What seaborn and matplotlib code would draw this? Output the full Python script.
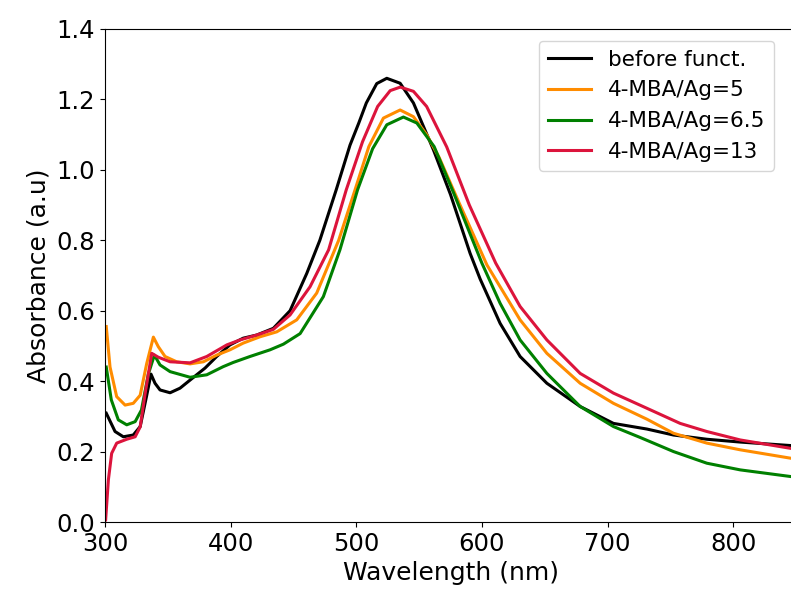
import matplotlib
matplotlib.use("Agg")
import matplotlib.pyplot as plt
import pandas as pd
import seaborn as sns

# UV-vis spectra (wavelength in nm, absorbance in a.u.)
wl_before = [301, 308, 314.6, 322.5, 328, 333, 336.6, 339.8, 343.8, 351.8, 359.7, 367.7,
             379.6, 388.9, 399.5, 410, 420.8, 434, 447.3, 460.6, 471, 484, 495, 502, 508,
             516.3, 524.3, 534.9, 545.5, 561.4, 575, 590.6, 598.6, 614.5, 630.4, 651.7,
             678.2, 704.7, 731.3, 752.5, 779, 805.6, 846]
abs_before = [0.309, 0.257, 0.242, 0.247, 0.271, 0.356, 0.42, 0.394, 0.375, 0.367, 0.38, 0.403,
              0.437, 0.47, 0.503, 0.522, 0.531, 0.55, 0.60, 0.706, 0.80, 0.943, 1.07, 1.133, 1.19,
              1.245, 1.26, 1.246, 1.19, 1.057, 0.93, 0.763, 0.69, 0.564, 0.47, 0.394,
              0.328, 0.28, 0.264, 0.247, 0.235, 0.227, 0.217]

wl_mba5 = [301, 304, 309.3, 316, 322.5, 328, 333.2, 338.5, 342.4, 347.8, 357, 367.7, 378.3,
           389, 399.5, 410, 423.4, 436.7, 452.6, 468.5, 479, 486, 499, 510, 521.6, 534.9,
           545.5, 556, 566, 582, 604, 614.5, 630.4, 651.7, 678.2, 704.7, 731.3, 752.5, 779,
           805.6, 846]
abs_mba5 = [0.555, 0.44, 0.356, 0.332, 0.337, 0.36, 0.45, 0.525, 0.498, 0.47, 0.455, 0.449, 0.455,
            0.474, 0.489, 0.508, 0.526, 0.54, 0.574, 0.65, 0.74, 0.80, 0.943, 1.066, 1.147, 1.17,
            1.151, 1.10, 1.035, 0.905, 0.73, 0.668, 0.574, 0.479, 0.394, 0.337, 0.292, 0.252, 0.224,
            0.205, 0.181]

wl_mba65 = [301, 305, 310.6, 317.3, 324, 329, 334.5, 339.3, 343.8, 351.8, 367.7, 381, 394,
            402, 415.4, 431.4, 442, 455.3, 473.8, 487, 501, 513, 524.3, 537.5, 548.2, 562,
            578, 600, 614.5, 630.4, 651.7, 678.2, 704.7, 726, 752.5, 779, 805.6, 846]
abs_mba65 = [0.44, 0.347, 0.29, 0.276, 0.285, 0.318, 0.42, 0.474, 0.446, 0.427, 0.411, 0.418, 0.441,
             0.453, 0.47, 0.489, 0.505, 0.535, 0.64, 0.773, 0.943, 1.06, 1.128, 1.15, 1.133, 1.066,
             0.93, 0.735, 0.621, 0.517, 0.422, 0.328, 0.271, 0.24, 0.2, 0.167, 0.148, 0.129]

wl_mba13 = [300.5, 302.7, 305.3, 309.3, 317.3, 324, 328, 332, 337.2, 342.4, 351.8, 367.7, 381,
            397, 407.5, 420.8, 434, 447.3, 463.2, 478, 492, 505, 517, 527, 535, 545.5, 556,
            572, 590, 611, 630.4, 651.7, 678.2, 704.7, 731.3, 757.8, 779, 805.6, 846]
abs_mba13 = [0.006, 0.12, 0.195, 0.224, 0.235, 0.242, 0.27, 0.366, 0.479, 0.468, 0.455, 0.452, 0.47,
             0.503, 0.517, 0.531, 0.547, 0.588, 0.668, 0.773, 0.943, 1.08, 1.18, 1.225, 1.235, 1.223,
             1.18, 1.065, 0.90, 0.735, 0.612, 0.517, 0.422, 0.366, 0.323, 0.28, 0.257, 0.233, 0.209]

labels = ['before funct.', '4-MBA/Ag=5', '4-MBA/Ag=6.5', '4-MBA/Ag=13']
colors = ['black', 'darkorange', 'green', 'crimson']

series = [(wl_before, abs_before), (wl_mba5, abs_mba5), (wl_mba65, abs_mba65), (wl_mba13, abs_mba13)]
df = pd.concat(
    [pd.DataFrame({'wl': x, 'abs': y, 'sample': lab}) for (x, y), lab in zip(series, labels)],
    ignore_index=True,
)

fig = plt.figure(figsize=(7.91, 5.95), dpi=100)
# axes run a bit past the right edge of the figure, as in the cropped original
ax = fig.add_axes([105 / 791, 73 / 595, (796 - 105) / 791, (522 - 29) / 595])

sns.lineplot(data=df, x='wl', y='abs', hue='sample', hue_order=labels,
             palette=dict(zip(labels, colors)), linewidth=2.2, ax=ax, estimator=None)

ax.set_xlim(300, 850)
ax.set_ylim(0, 1.4)
ax.set_xticks([300, 400, 500, 600, 700, 800])
ax.set_yticks([0.0, 0.2, 0.4, 0.6, 0.8, 1.0, 1.2, 1.4])
ax.set_yticklabels(['0.0', '0.2', '0.4', '0.6', '0.8', '1.0', '1.2', '1.4'])
ax.tick_params(labelsize=17.5)
ax.set_xlabel('Wavelength (nm)', fontsize=18)
ax.set_ylabel('Absorbance (a.u)', fontsize=18)

leg = ax.legend(loc='upper right', bbox_to_anchor=(774 / 791, 1 - 41 / 595),
                bbox_transform=fig.transFigure, borderaxespad=0, fontsize=15.5)
for line in leg.get_lines():
    line.set_linewidth(2.2)

fig.savefig('out.png', dpi=100)
